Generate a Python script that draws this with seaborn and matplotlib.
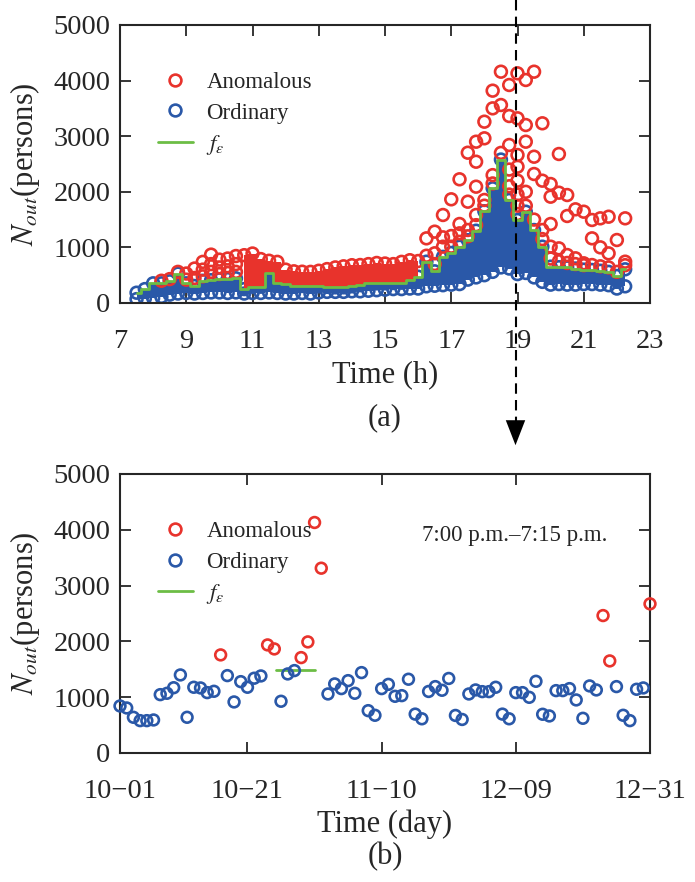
import numpy as np
import pandas as pd
import seaborn as sns
import matplotlib
matplotlib.use("Agg")
from matplotlib import pyplot as plt
from matplotlib.lines import Line2D
from matplotlib.patches import FancyArrowPatch

RED = "#e8332c"
BLUE = "#2a58a8"
GREEN = "#6cbd45"

# (a) one day, 15-min slots
slot_hours = [7.5, 7.75, 8.0, 8.25, 8.5, 8.75, 9.0, 9.25, 9.5, 9.75,
              10.0, 10.25, 10.5, 10.75, 11.0, 11.25, 11.5, 11.75, 12.0, 12.25,
              12.5, 12.75, 13.0, 13.25, 13.5, 13.75, 14.0, 14.25, 14.5, 14.75,
              15.0, 15.25, 15.5, 15.75, 16.0, 16.25, 16.5, 16.75, 17.0, 17.25,
              17.5, 17.75, 18.0, 18.25, 18.5, 18.75, 19.0, 19.25, 19.5, 19.75,
              20.0, 20.25, 20.5, 20.75, 21.0, 21.25, 21.5, 21.75, 22.0, 22.25]
f_eps = [185, 250, 354, 354, 390, 530, 354, 306, 400, 410,
         426, 430, 444, 250, 293, 293, 534, 354, 340, 306,
         306, 300, 300, 290, 282, 282, 300, 320, 354, 354,
         354, 360, 365, 414, 473, 743, 570, 830, 900, 1013,
         1130, 1300, 1650, 2063, 2580, 1853, 1493, 1642, 1313, 1013,
         653, 644, 640, 620, 600, 594, 580, 560, 486, 606]
ord_low = [70, 80, 90, 110, 150, 170, 180, 170, 180, 190,
           190, 180, 190, 170, 180, 180, 190, 180, 170, 170,
           180, 170, 190, 200, 200, 200, 210, 210, 220, 230,
           240, 250, 250, 260, 260, 300, 310, 320, 330, 340,
           420, 460, 500, 560, 640, 620, 520, 540, 460, 380,
           330, 340, 330, 330, 340, 340, 330, 320, 260, 300]
anom_top = [185, 250, 354, 400, 430, 560, 530, 620, 740, 870,
            780, 800, 845, 860, 890, 790, 760, 740, 600, 570,
            563, 560, 580, 610, 640, 660, 680, 683, 700, 720,
            710, 700, 740, 770, 755, 743, 570, 830, 900, 1013,
            1130, 1300, 1650, 2063, 2580, 1853, 1493, 1642, 1313, 1013,
            653, 644, 640, 620, 600, 594, 580, 560, 486, 606]
anom_hours = [9.0, 9.25, 9.5, 9.5, 9.75, 9.75, 10.0, 10.0, 10.25, 10.25, 10.5, 10.5,
              16.25, 16.25, 16.5, 16.5, 16.5, 16.75, 16.75, 16.75, 17.0, 17.0, 17.0,
              17.25, 17.25, 17.25, 17.25, 17.5, 17.5, 17.5, 17.5,
              17.75, 17.75, 17.75, 17.75, 17.75, 18.0, 18.0, 18.0, 18.0,
              18.25, 18.25, 18.25, 18.25, 18.5, 18.5, 18.5,
              18.75, 18.75, 18.75, 18.75, 18.75, 18.75,
              19.0, 19.0, 19.0, 19.0, 19.0, 19.0, 19.0, 19.0,
              19.25, 19.25, 19.25, 19.25, 19.25, 19.5, 19.5, 19.5, 19.5,
              19.75, 19.75, 19.75, 19.75, 20.0, 20.0, 20.0, 20.0, 20.0,
              20.25, 20.25, 20.25, 20.25, 20.5, 20.5, 20.5, 20.5,
              20.75, 20.75, 20.75, 21.0, 21.0, 21.0, 21.25, 21.25, 21.25,
              21.5, 21.5, 21.5, 21.75, 21.75, 21.75, 22.0, 22.0, 22.25, 22.25, 22.25]
anom_values = [420, 450, 600, 480, 700, 560, 640, 520, 660, 540, 700, 560,
               1163, 850, 1283, 894, 700, 1583, 1181, 1013, 1865, 1205, 1013,
               2225, 1421, 1253, 1100, 2703, 1822, 1313, 1200,
               2901, 2541, 2092, 1583, 1400, 3261, 2962, 1853, 1750,
               3819, 3501, 2300, 2150, 4160, 3561, 2700,
               3921, 3363, 2842, 2400, 2100, 1950,
               4131, 3322, 2662, 2452, 2200, 1950, 1750, 1600,
               4011, 3201, 2901, 2000, 1750, 4160, 2631, 2320, 1500,
               3232, 2200, 1313, 1150, 2140, 1912, 1421, 1013, 800,
               2680, 1984, 983, 750, 1942, 1565, 863, 720,
               1685, 804, 700, 1642, 714, 680, 1493, 1163, 683,
               1523, 1001, 660, 1552, 893, 640, 1133, 560, 1523, 743, 680]

# (b) the 7:00-7:15 p.m. slot over the days
day_values = [843, 807, 640, 580, 580, 592, 1046, 1070, 1170, 1399,
              640, 1178, 1166, 1082, 1106, 1758, 1387, 915, 1279, 1178,
              1340, 1381, 1937, 1865, 927, 1417, 1477, 1710, 1991, 4131,
              3312, 1058, 1238, 1154, 1297, 1070, 1441, 759, 676, 1154,
              1230, 1016, 1028, 1322, 697, 613, 1103, 1190, 1124, 1336,
              673, 601, 1058, 1130, 1100, 1100, 1178, 697, 613, 1082,
              1082, 998, 1285, 694, 664, 1118, 1118, 1154, 951, 622,
              1202, 1130, 2463, 1650, 1190, 676, 580, 1142, 1166, 2673]
anomalous_days = [15, 22, 23, 27, 28, 29, 30, 72, 73, 79]
fe_slot = 1490
fe_days = [23.3, 29.1]
day_ticks = [0, 19, 39, 59, 79]
day_labels = ["10\u221201", "10\u221221", "11\u221210", "12\u221209", "12\u221231"]

df_a = pd.DataFrame({"hour": slot_hours, "f_eps": f_eps,
                     "ord_low": ord_low, "anom_top": anom_top})
df_anom = pd.DataFrame({"hour": anom_hours, "n": anom_values})
df_b = pd.DataFrame({"day": np.arange(len(day_values)), "n": day_values})
df_b["kind"] = np.where(df_b["day"].isin(anomalous_days), "Anomalous", "Ordinary")

sns.set_style("ticks")
plt.rcParams["font.family"] = ["Liberation Serif", "DejaVu Serif"]
plt.rcParams["mathtext.fontset"] = "stix"

fig = plt.figure(figsize=(6.95, 8.82), dpi=100)
ax_a = fig.add_axes([120 / 695, 1 - 303 / 882, 530 / 695, 278 / 882])
ax_b = fig.add_axes([120 / 695, 1 - 753 / 882, 530 / 695, 279 / 882])

circ = dict(facecolor="none", linewidth=1.9, s=72)

# ordinary band
ax_a.fill_between(df_a["hour"], df_a["ord_low"], df_a["f_eps"], step="mid",
                  color=BLUE, lw=0, zorder=1)
sns.scatterplot(data=df_a, x="hour", y="ord_low", ax=ax_a, color=BLUE,
                edgecolor=BLUE, zorder=2, **circ)
sns.scatterplot(data=df_a, x="hour", y="f_eps", ax=ax_a, color=BLUE,
                edgecolor=BLUE, zorder=2, **circ)

# anomalous band + scattered outliers
dense = (df_a["hour"] >= 10.75) & (df_a["hour"] <= 16.0)
ax_a.fill_between(df_a["hour"], df_a["f_eps"], df_a["anom_top"], where=dense,
                  step="mid", color=RED, lw=0, zorder=3)
top_edge = df_a[df_a["anom_top"] > df_a["f_eps"]]
sns.scatterplot(data=top_edge, x="hour", y="anom_top", ax=ax_a, color=RED,
                edgecolor=RED, zorder=4, **circ)
sns.scatterplot(data=df_anom, x="hour", y="n", ax=ax_a, color=RED,
                edgecolor=RED, zorder=4, **circ)

sns.lineplot(data=df_a, x="hour", y="f_eps", ax=ax_a, color=GREEN, lw=2,
             drawstyle="steps-mid", zorder=5)

# (b)
for kind, col in [("Ordinary", BLUE), ("Anomalous", RED)]:
    sub = df_b[df_b["kind"] == kind]
    sns.scatterplot(data=sub, x="day", y="n", ax=ax_b, color=col, edgecolor=col,
                    s=60, zorder=3, facecolor="none", linewidth=1.9, clip_on=False)
ax_b.plot(fe_days, [fe_slot, fe_slot], color=GREEN, lw=2, zorder=2)
ax_b.text(0.745, 0.78, "7:00 p.m.\u20137:15 p.m.", transform=ax_b.transAxes,
          ha="center", va="center", fontsize=16.5)

handles = [Line2D([], [], ls="none", marker="o", mfc="none", mec=RED, mew=1.9, ms=8.5),
           Line2D([], [], ls="none", marker="o", mfc="none", mec=BLUE, mew=1.9, ms=8.5),
           Line2D([], [], color=GREEN, lw=2)]
labels = ["Anomalous", "Ordinary", r"$f_{\varepsilon}$"]

for ax in (ax_a, ax_b):
    ax.set_ylim(0, 5000)
    ax.set_yticks([0, 1000, 2000, 3000, 4000, 5000])
    ax.tick_params(direction="in", length=8, width=1.3, labelsize=20.5,
                   top=True, right=True)
    ax.tick_params(axis="x", pad=19)
    ax.tick_params(axis="y", pad=7)
    for sp in ax.spines.values():
        sp.set_linewidth(1.5)
    ax.set_ylabel(r"$N_{out}$(persons)", fontsize=22, labelpad=8)
    ax.legend(handles, labels, loc="upper left", bbox_to_anchor=(0.072, 0.83),
              frameon=False, fontsize=16.5, handlelength=1.5, handletextpad=0.6,
              labelspacing=0.4, borderpad=0, borderaxespad=0)

ax_a.set_xlim(7, 23)
ax_a.set_xticks([7, 9, 11, 13, 15, 17, 19, 21, 23])
ax_a.set_xlabel("Time (h)", fontsize=22, labelpad=4)
ax_b.set_xlim(0, 79)
ax_b.set_xticks(day_ticks)
ax_b.set_xticklabels(day_labels)
ax_b.set_xlabel("Time (day)", fontsize=22, labelpad=4)

fig.text(385 / 695, 1 - 418 / 882, "(a)", ha="center", va="center", fontsize=22)
fig.text(385 / 695, 1 - 857 / 882, "(b)", ha="center", va="center", fontsize=22)

# dashed arrow from slot 19 h in (a) down to (b)
xa = 515.5 / 695
fig.add_artist(Line2D([xa, xa], [1.0, 1 - 432 / 882], transform=fig.transFigure,
                      color="black", lw=1.5, dashes=(5, 3), zorder=10))
fig.add_artist(FancyArrowPatch((xa, 1 - 427 / 882), (xa, 1 - 448 / 882),
                               transform=fig.transFigure, color="black",
                               arrowstyle="-|>,head_length=0.9,head_width=0.35",
                               mutation_scale=20, lw=0, zorder=10))

fig.savefig("out.png", dpi=100)
